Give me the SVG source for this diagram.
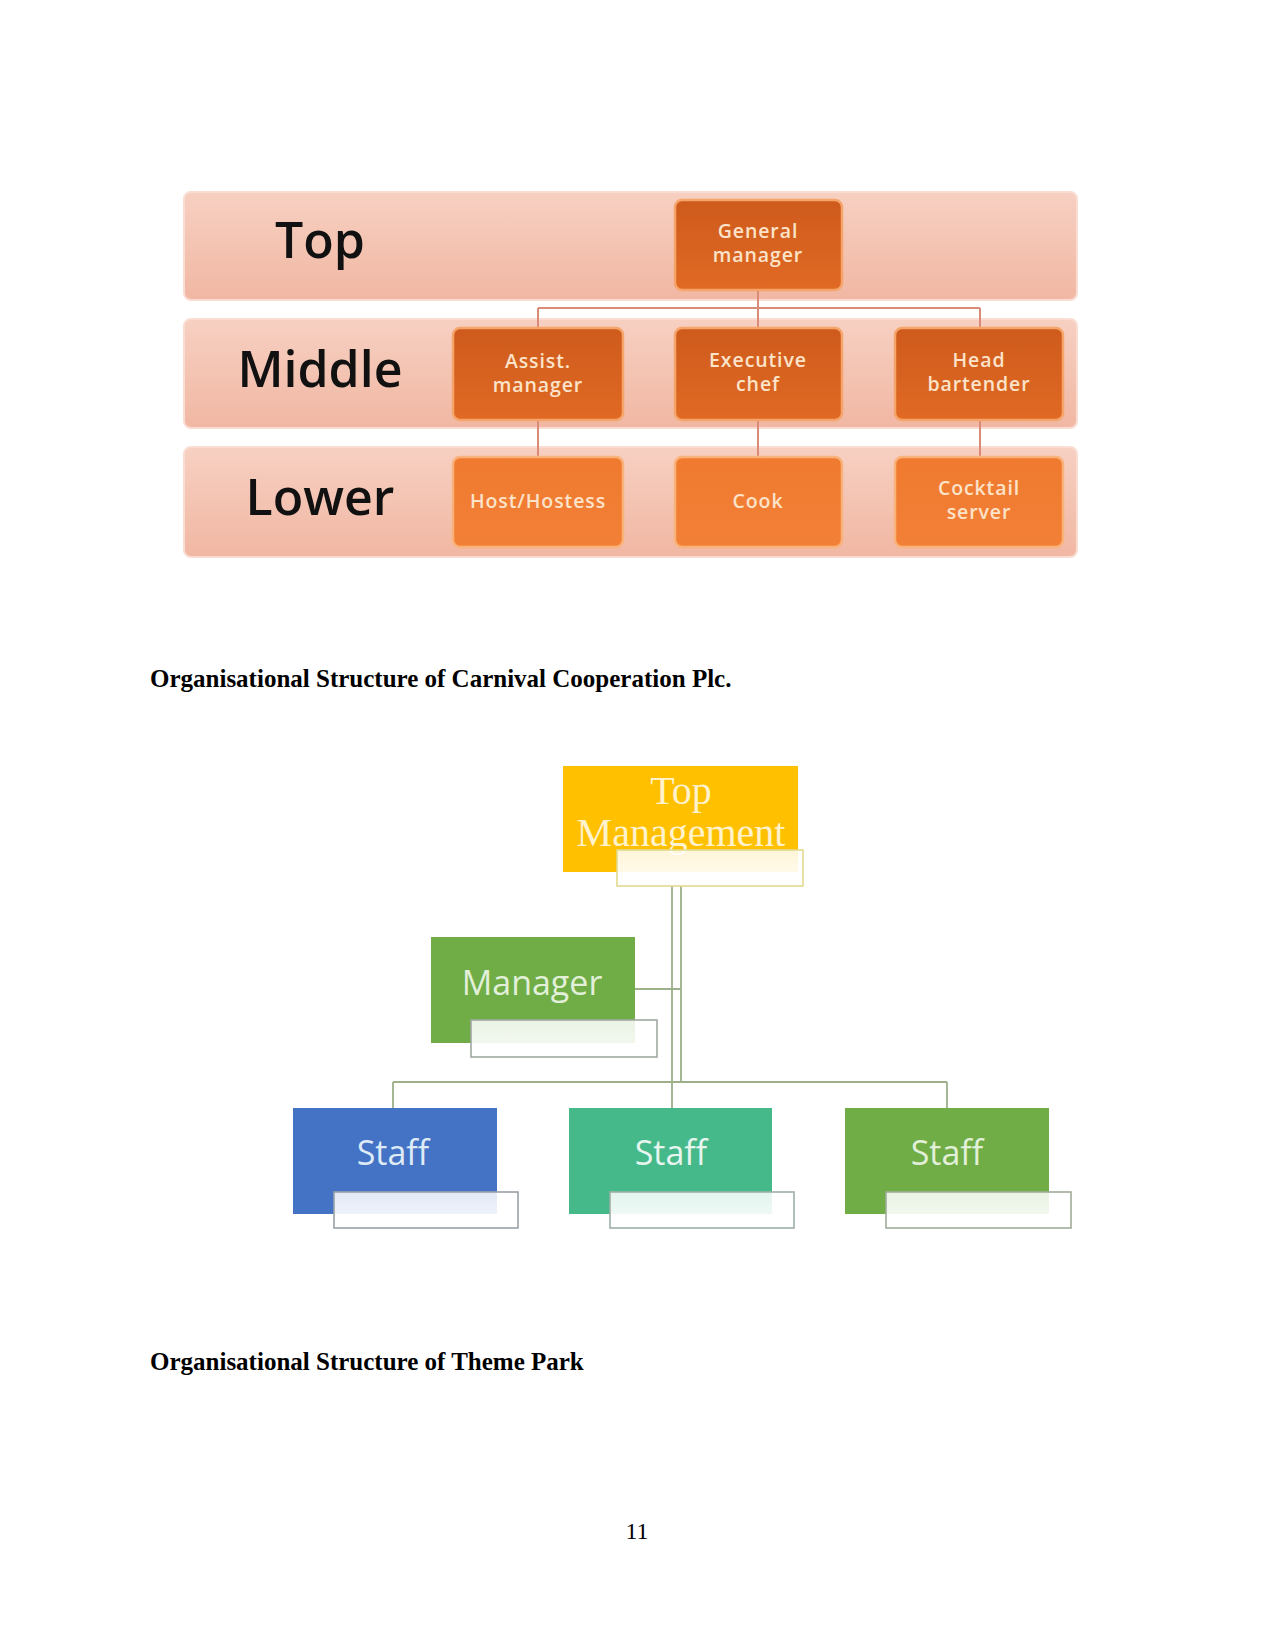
<svg xmlns="http://www.w3.org/2000/svg" width="1275" height="1650" viewBox="0 0 1275 1650">
<defs>
<linearGradient id="band" x1="0" y1="0" x2="0" y2="1">
<stop offset="0" stop-color="#F7D0C2"/>
<stop offset="1" stop-color="#F1B7A3"/>
</linearGradient>
<linearGradient id="boxD" x1="0" y1="0" x2="0" y2="1">
<stop offset="0" stop-color="#CE5A1C"/>
<stop offset="1" stop-color="#E06A24"/>
</linearGradient>
<linearGradient id="boxL" x1="0" y1="0" x2="0" y2="1">
<stop offset="0" stop-color="#EF7A30"/>
<stop offset="1" stop-color="#F28036"/>
</linearGradient>
<linearGradient id="ov" x1="0" y1="0" x2="0" y2="1">
<stop offset="0" stop-color="#FFFFFF" stop-opacity="0.85"/>
<stop offset="1" stop-color="#FFFFFF" stop-opacity="0.95"/>
</linearGradient>
<style>
.band{fill:url(#band);stroke:#F9DCD2;stroke-width:2}
.lvl{font-family:"Open Sans",sans-serif;font-size:50px;font-weight:600;fill:#111;text-anchor:middle}
.bd{fill:url(#boxD);stroke:#F5A56A;stroke-width:2.5}
.bl{fill:url(#boxL);stroke:#F9B37A;stroke-width:2.5}
.bt{font-family:"Open Sans",sans-serif;font-size:19.5px;font-weight:600;fill:#FCE3C9;text-anchor:middle;letter-spacing:0.9px}
.c1{stroke:#D98B77;stroke-width:2;fill:none}
.c2{stroke:#9DB08A;stroke-width:1.8;fill:none}
.ov{fill:url(#ov);stroke-width:1.6}
.st{font-family:"Open Sans",sans-serif;font-size:34px;text-anchor:middle}
.cap{font-family:"Liberation Serif",serif;font-size:25px;font-weight:bold;fill:#000}
</style>
</defs>
<rect width="1275" height="1650" fill="#FFFFFF"/>

<!-- Diagram 1 bands -->
<g id="band-top"><rect class="band" x="184" y="192" width="893" height="108" rx="7"/><text class="lvl" x="320" y="258">Top</text></g>
<g id="band-middle"><rect class="band" x="184" y="319" width="893" height="109" rx="7"/><text class="lvl" x="320" y="387">Middle</text></g>
<g id="band-lower"><rect class="band" x="184" y="447" width="893" height="110" rx="7"/><text class="lvl" x="320" y="515">Lower</text></g>

<g id="connectors-1">
<path class="c1" d="M758 290 V308 M538 308 H980 M538 308 V328 M758 308 V328 M980 308 V328 M538 420 V457 M758 420 V457 M980 420 V457"/>
</g>

<g id="general-manager"><rect class="bd" x="675" y="200" width="167" height="90" rx="7"/><text class="bt" x="758" y="238">General</text><text class="bt" x="758" y="262">manager</text></g>
<g id="assist-manager"><rect class="bd" x="453" y="328" width="170" height="92" rx="7"/><text class="bt" x="538" y="368">Assist.</text><text class="bt" x="538" y="392">manager</text></g>
<g id="executive-chef"><rect class="bd" x="675" y="328" width="167" height="92" rx="7"/><text class="bt" x="758" y="367">Executive</text><text class="bt" x="758" y="391">chef</text></g>
<g id="head-bartender"><rect class="bd" x="895" y="328" width="168" height="92" rx="7"/><text class="bt" x="979" y="367">Head</text><text class="bt" x="979" y="391">bartender</text></g>
<g id="host-hostess"><rect class="bl" x="453" y="457" width="170" height="90" rx="7"/><text class="bt" x="538" y="508">Host/Hostess</text></g>
<g id="cook"><rect class="bl" x="675" y="457" width="167" height="90" rx="7"/><text class="bt" x="758" y="508">Cook</text></g>
<g id="cocktail-server"><rect class="bl" x="895" y="457" width="168" height="90" rx="7"/><text class="bt" x="979" y="495">Cocktail</text><text class="bt" x="979" y="519">server</text></g>

<text class="cap" x="150" y="687">Organisational Structure of Carnival Cooperation Plc.</text>

<!-- Diagram 2 -->
<g id="connectors-2">
<path class="c2" d="M672 886 V1108 M681 886 V1082 M635 989 H681 M393 1082 H947 M393 1082 V1108 M947 1082 V1108"/>
</g>

<g id="top-management">
<rect x="563" y="766" width="235" height="106" fill="#FFC000"/>
<text x="681" y="804" font-family="Liberation Serif,serif" font-size="40" fill="#FFF2CC" text-anchor="middle">Top</text>
<text x="681" y="846" font-family="Liberation Serif,serif" font-size="40" fill="#FFF2CC" text-anchor="middle">Management</text>
<rect class="ov" x="617" y="850" width="186" height="36" stroke="#E2DB8C"/>
</g>
<g id="manager">
<rect x="431" y="937" width="204" height="106" fill="#70AD47"/>
<text class="st" x="532" y="995" fill="#E2F0D9" font-size="35">Manager</text>
<rect class="ov" x="471" y="1020" width="186" height="37" stroke="#A0A8A0"/>
</g>
<g id="staff-1">
<rect x="293" y="1108" width="204" height="106" fill="#4472C4"/>
<text class="st" x="393" y="1165" fill="#DEEBF7">Staff</text>
<rect class="ov" x="334" y="1192" width="184" height="36" stroke="#9AA0A8"/>
</g>
<g id="staff-2">
<rect x="569" y="1108" width="203" height="106" fill="#46B98B"/>
<text class="st" x="671" y="1165" fill="#E6F5EE">Staff</text>
<rect class="ov" x="610" y="1192" width="184" height="36" stroke="#9DB0A8"/>
</g>
<g id="staff-3">
<rect x="845" y="1108" width="204" height="106" fill="#70AD47"/>
<text class="st" x="947" y="1165" fill="#E2F0D9">Staff</text>
<rect class="ov" x="886" y="1192" width="185" height="36" stroke="#A0AC98"/>
</g>

<text class="cap" x="150" y="1370">Organisational Structure of Theme Park</text>
<text x="637" y="1539" font-family="Liberation Serif,serif" font-size="24" fill="#000" text-anchor="middle">11</text>
</svg>
